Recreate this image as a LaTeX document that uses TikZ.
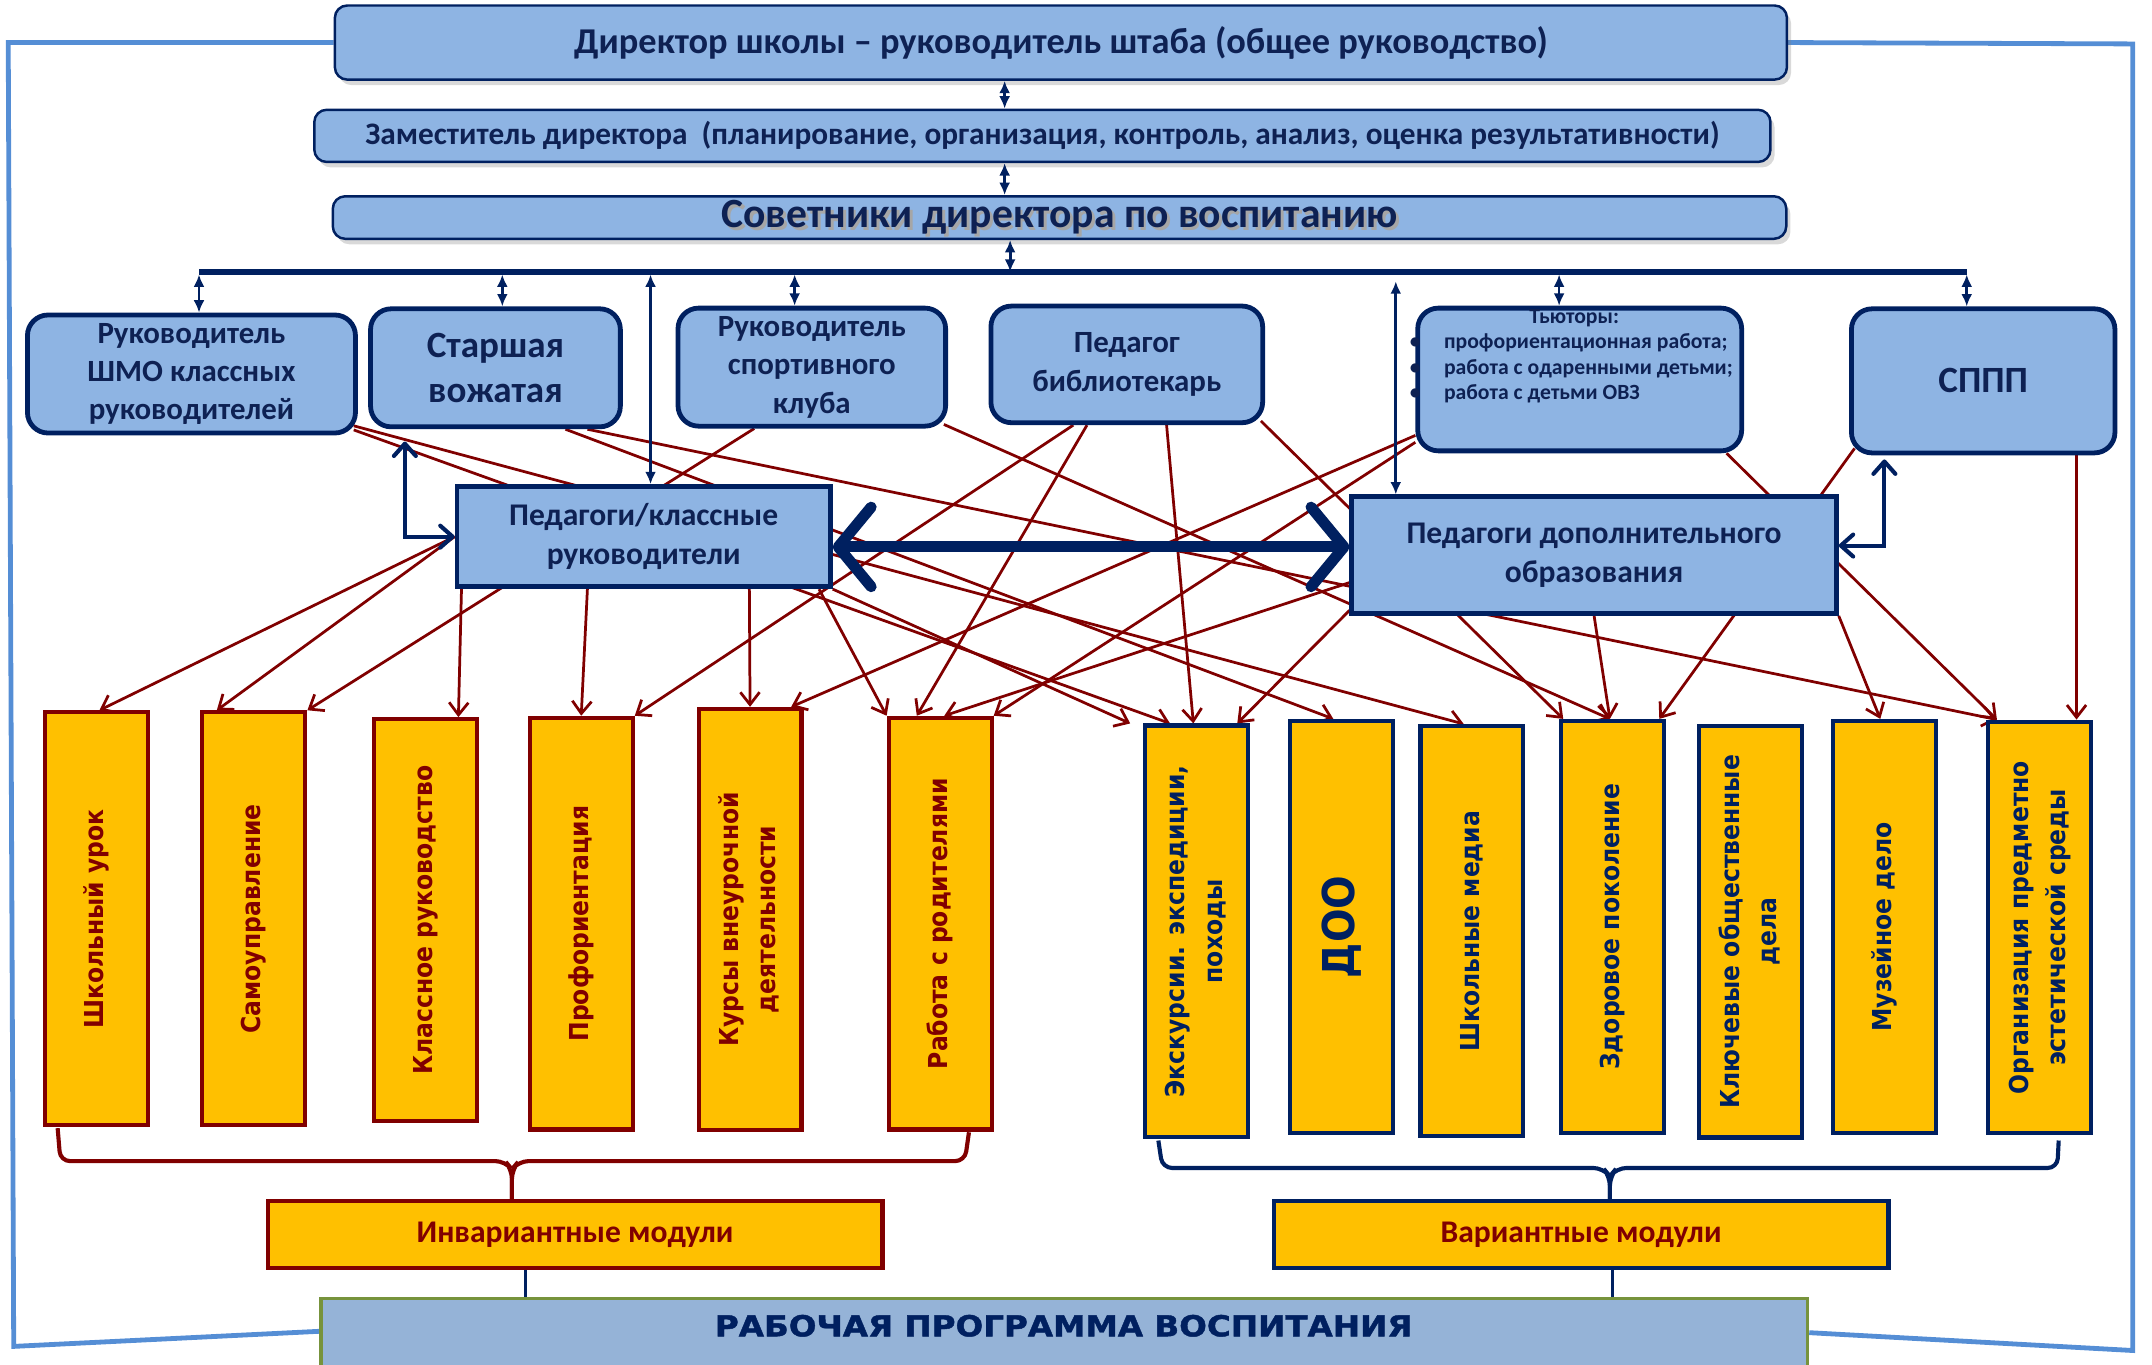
\documentclass[tikz,border=0pt]{standalone}
\usepackage{fontspec}
\usepackage{graphicx}
\setmainfont{Carlito}
\newfontfamily\modfont{DejaVu Sans}[FakeStretch=0.9]
\newfontfamily\progfont{DejaVu Sans}[FakeStretch=1.13, BoldFeatures={FakeBold=1.5}]
\usetikzlibrary{arrows.meta,shadows,backgrounds}

\definecolor{navy}{HTML}{002060}
\definecolor{ink}{HTML}{0E2153}
\definecolor{boxblue}{HTML}{8EB4E3}
\definecolor{modyellow}{HTML}{FFC000}
\definecolor{darkred}{HTML}{800000}
\definecolor{progblue}{HTML}{95B3D7}
\definecolor{olive}{HTML}{77933C}
\definecolor{rimblue}{HTML}{558ED5}

\newcommand{\twolines}[2]{\begin{tabular}{@{}c@{}}#1\\#2\end{tabular}}
\newcommand{\bull}{\llap{\textbullet\hspace{17pt}}}

\tikzset{
  topbox/.style={draw=navy, line width=1.8pt, fill=boxblue, rounded corners=9pt,
    text=ink, inner sep=0pt,
    drop shadow={shadow xshift=3pt, shadow yshift=-4pt, opacity=.3}},
  rolebox/.style={draw=navy, line width=3.5pt, fill=boxblue, rounded corners=15pt,
    text=ink, align=center, inner sep=2pt, font=\bfseries\fontsize{22.5}{28}\selectfont},
  staffbox/.style={draw=navy, line width=3.5pt, fill=boxblue, text=ink, align=center,
    font=\bfseries\fontsize{23}{28}\selectfont},
  tutortext/.style={text=ink, inner sep=0pt, font=\bfseries\fontsize{15.8}{18.5}\selectfont},
  module/.style={line width=3pt, fill=modyellow, minimum width=75pt, inner sep=0pt,
    font=\modfont\bfseries\fontsize{19}{27}\selectfont},
  invmod/.style={module, draw=darkred, text=darkred},
  varmod/.style={module, draw=navy, text=navy},
  sumbox/.style={line width=3pt, fill=modyellow, text=darkred, minimum width=448pt,
    minimum height=49pt, font=\bfseries\fontsize{23}{28}\selectfont},
  progbox/.style={draw=olive, line width=2.5pt, fill=progblue},
  link/.style={darkred, line width=2pt, -{Straight Barb[length=9pt,width=14pt]}},
  tap/.style={navy, line width=2pt, {Latex[length=9pt,width=8pt]}-{Latex[length=9pt,width=8pt]}},
  elbow/.style={navy, line width=3pt,
    {Straight Barb[length=9pt,width=16pt,round]}-{Straight Barb[length=9pt,width=16pt,round]}},
  bigarrow/.style={navy, line width=8pt,
    {Straight Barb[length=24pt,width=58pt,round]}-{Straight Barb[length=24pt,width=58pt,round]}},
  bus/.style={navy, line width=4.5pt},
  rim/.style={rimblue, line width=3.5pt},
  invbrace/.style={darkred, line width=3pt, rounded corners=7pt},
  varbrace/.style={navy, line width=3pt, rounded corners=7pt},
  sovfont/.style={inner sep=0pt, font=\bfseries\fontsize{30.3}{36}\selectfont}
}

\begin{document}
\begin{tikzpicture}[x=1pt,y=-1pt]
  \useasboundingbox (0,0) rectangle (1568,994);

  % management
  \node[topbox, minimum width=1058pt, minimum height=54pt,
    font=\bfseries\fontsize{26.5}{30}\selectfont] (dir) at (773,31)
    {Директор школы – руководитель штаба (общее руководство)};
  \node[topbox, minimum width=1061pt, minimum height=38pt,
    font=\bfseries\fontsize{22.8}{26}\selectfont] (zam) at (759.5,99)
    {Заместитель директора\ \ (планирование, организация, контроль, анализ, оценка результативности)};
  \node[topbox, minimum width=1059pt, minimum height=31pt] (sov) at (772,158.5) {};
  \node[sovfont, text=black!35] (sovshade) at ([shift={(2pt,-2pt)}]sov.center)
    {Советники директора по воспитанию};
  \node[sovfont, text=ink] (sovtitle) at (sov.center) {Советники директора по воспитанию};

  % second row
  \node[rolebox, minimum width=239pt, minimum height=86pt] (A) at (139.5,272.5)
    {Руководитель\\ШМО классных\\руководителей};
  \node[rolebox, minimum width=182pt, minimum height=86pt,
    font=\bfseries\fontsize{27}{33}\selectfont] (B) at (361,268) {Старшая\\вожатая};
  \node[rolebox, minimum width=195pt, minimum height=86pt] (C) at (591.5,267.5)
    {Руководитель\\спортивного\\клуба};
  \node[rolebox, minimum width=198pt, minimum height=85pt] (D) at (821,265.5)
    {Педагог\\библиотекарь};
  \node[rolebox, minimum width=236pt, minimum height=104pt] (E) at (1151,276.5) {};
  \node[tutortext] (Ehead) at (1147,232) {Тьюторы:};
  \node[tutortext, anchor=west, align=left] (Elist) at (1052,268.5)
    {\bull профориентационная работа;\\\bull работа с одаренными детьми;\\\bull работа с детьми ОВЗ};
  \node[rolebox, minimum width=192pt, minimum height=105pt,
    font=\bfseries\fontsize{27}{33}\selectfont] (F) at (1445,277.5) {СППП};

  % teachers
  \node[staffbox, minimum width=272pt, minimum height=73pt] (G) at (469,391)
    {Педагоги/классные\\руководители};
  \node[staffbox, minimum width=353pt, minimum height=85pt] (H) at (1161.5,404.5)
    {Педагоги дополнительного\\образования};

  % modules
  \foreach \name/\x/\y/\h/\txt in {
      M1/70.5/669.5/301/{Школьный урок},
      M2/185/669.5/301/{Самоуправление},
      M3/310/670.5/293/{Классное руководство},
      M4/423.5/673/300/{Профориентация},
      M5/546.5/670/307/{\twolines{Курсы внеурочной}{деятельности}},
      M6/685/673/300/{Работа с родителями}}
    \node[invmod, minimum height=\h pt] (\name) at (\x,\y) {\rotatebox{90}{\txt}};
  \foreach \name/\x/\y/\h/\txt in {
      M7/871.5/678.6/300/{\twolines{Экскурсии. экспедиции,}{походы}},
      M8/977.5/675.3/300/{\fontsize{32}{38}\selectfont ДОО},
      M9/1072.5/678.5/299/{Школьные медиа},
      M10/1175/675.3/300/{Здоровое поколение},
      M11/1275.5/678.8/300/{\twolines{Ключевые общественные}{дела}},
      M12/1373/675.3/300/{Музейное дело},
      M13/1486/675.8/300/{\twolines{Организация предметно}{эстетической среды}}}
    \node[varmod, minimum height=\h pt] (\name) at (\x,\y) {\rotatebox{90}{\txt}};

  \node[sumbox, draw=darkred] (INV) at (419,899.5) {Инвариантные модули};
  \node[sumbox, draw=navy] (VAR) at (1152,899.5) {Вариантные модули};
  \node[progbox, minimum width=1083pt, minimum height=54pt] (rpv) at (775.5,973) {};
  \node[text=navy, inner sep=0pt, font=\progfont\bfseries\fontsize{21}{24}\selectfont]
    (rpvtitle) at (775,966) {РАБОЧАЯ ПРОГРАММА ВОСПИТАНИЯ};

  % red links, under the boxes
  \begin{pgfonlayer}{background}
    \draw[rim] (dir.west) -- (6,31) -- (10,981) -- ([yshift=3pt]rpv.west);
    \draw[rim] (dir.east) -- (1554,32) -- (1554,984) -- ([yshift=2pt]rpv.east);

    \draw[link] (G.west) -- ([xshift=2pt]M1.north);
    \draw[link] (G.west) -- ([xshift=-27pt]M2.north);
    \draw[link] ([xshift=5pt]G.south west) -- ([xshift=24pt]M3.north);
    \draw[link] ([xshift=-41pt]G.south) -- (M4.north);
    \draw[link] ([xshift=77pt]G.south) -- (M5.north);
    \draw[link] ([xshift=-10pt]G.south east) -- (M6.north west);
    \draw[link] (G.south east) -- ([xshift=-48pt]M7.north);

    \draw[link] ([shift={(-3pt,4pt)}]A.south east) -- ([xshift=-19pt]M7.north);
    \draw[link] ([shift={(-3pt,7pt)}]A.south east) -- ([xshift=-6pt]M9.north);
    \draw[link] ([xshift=51pt]B.south) -- ([xshift=-6pt]M8.north);
    \draw[link] ([xshift=67pt]B.south) -- ([xshift=-31pt]M13.north);
    \draw[link] ([xshift=-42pt]C.south) -- (M2.north east);
    \draw[link] ([shift={(-3pt,3pt)}]C.south east) -- ([xshift=-2pt]M10.north);

    \draw[link] ([xshift=-39pt]D.south) -- (M4.north east);
    \draw[link] ([xshift=-29pt]D.south) -- ([xshift=-17pt]M6.north);
    \draw[link] ([xshift=29pt]D.south) -- ([xshift=-2pt]M7.north);
    \draw[link] ([shift={(-3pt,3pt)}]D.south east) -- ([xshift=-36pt]M10.north);

    \draw[link] ([yshift=13pt]E.south west) -- ([xshift=30pt]M5.north);
    \draw[link] ([yshift=8pt]E.south west) -- (M6.north east);
    \draw[link] ([xshift=107pt]E.south) -- ([xshift=-31pt]M13.north);
    \draw[link] ([shift={(4pt,5pt)}]F.south west) -- ([xshift=34pt]M10.north);
    \draw[link] ([xshift=68pt]F.south) -- ([xshift=27pt]M13.north);

    \draw[link] ([yshift=-20pt]H.west) -- ([xshift=3pt]M6.north);
    \draw[link] ([yshift=4pt]H.south west) -- ([xshift=30pt]M7.north);
    \draw[link] (H.south) -- ([xshift=-2pt]M10.north);
    \draw[link] (H.south east) -- ([xshift=-3pt]M12.north);
  \end{pgfonlayer}

  % navy links
  \coordinate (axis) at (732,100);
  \draw[tap] (axis |- dir.south) -- (axis |- zam.north);
  \draw[tap] (axis |- zam.south) -- (axis |- sov.north);
  \coordinate (busW) at (145,198);
  \coordinate (busE) at (1433,198);
  \coordinate (hub) at (736,198);
  \draw[bus] (busW) -- (busE);
  \draw[tap] (hub |- sov.south) -- (hub);
  \foreach \x/\target in {145/A,366/B,474/G,579/C,1136/E,1433/F}{
    \coordinate (drop) at (\x,200);
    \draw[tap] (drop) -- (drop |- \target.north);
  }
  \coordinate (drop) at (1017,205);
  \draw[tap] (drop) -- (drop |- H.north);

  \coordinate (mid) at (0,398.5);
  \draw[bigarrow] (G.east |- mid) -- (H.west |- mid);
  \draw[elbow, shorten <=9pt] ([xshift=-66pt]B.south) |- (G.west);
  \draw[elbow, shorten >=3pt] ([yshift=7pt]H.east) -| ([xshift=-72pt]F.south);

  % braces
  \draw[invbrace] (42,822) -- (44,846) -- (368,846) -- (373,852) -- (373,875);
  \draw[invbrace] (706,825) -- (703,846) -- (378,846) -- (373,852) -- (373,875);
  \draw[varbrace] (844,831) -- (847,851) -- (1168,851) -- (1173,857) -- (1173,875);
  \draw[varbrace] (1500,831) -- (1499,851) -- (1178,851) -- (1173,857) -- (1173,875);

  \coordinate (invfoot) at ([xshift=-36pt]INV.south);
  \coordinate (varfoot) at ([xshift=23pt]VAR.south);
  \draw[navy, line width=2.5pt] (invfoot) -- (invfoot |- rpv.north);
  \draw[navy, line width=2.5pt] (varfoot) -- (varfoot |- rpv.north);
\end{tikzpicture}
\end{document}
